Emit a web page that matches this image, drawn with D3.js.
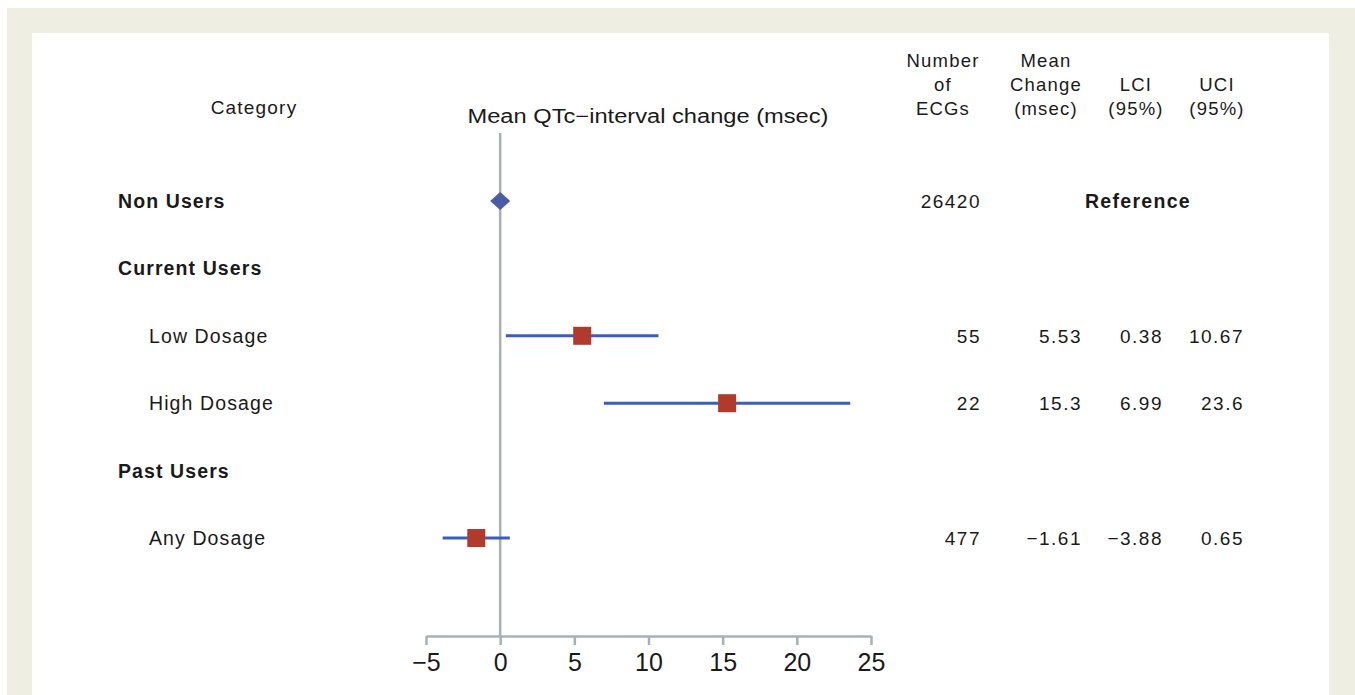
<!DOCTYPE html>
<html>
<head>
<meta charset="utf-8">
<script src="https://cdn.jsdelivr.net/npm/d3@7"></script>
<style>
  body { margin: 0; background: #fff; }
  text { font-family: "Liberation Sans", "Noto Sans", sans-serif; fill: #1a1a1a; }
</style>
</head>
<body>
<div id="chart"></div>
<script>
const width = 1355;
const height = 695;

// rows of the forest plot
const categories = ["Non Users", "Current Users", "Low Dosage", "High Dosage", "Past Users", "Any Dosage"];
const isGroup = [true, true, false, false, true, false];
const ecgCounts = ["26420", "", "55", "22", "", "477"];
const meanChange = [0, null, 5.53, 15.3, null, -1.61];
const lowerCI = [null, null, 0.38, 6.99, null, -3.88];
const upperCI = [null, null, 10.67, 23.6, null, 0.65];
const xTicks = [-5, 0, 5, 10, 15, 20, 25];

const colHeaders = [
  { lines: ["Number", "of", "ECGs"], x: 943 },
  { lines: ["Mean", "Change", "(msec)"], x: 1046 },
  { lines: ["LCI", "(95%)"], x: 1136 },
  { lines: ["UCI", "(95%)"], x: 1217 }
];

const svg = d3.select("#chart")
  .append("svg")
  .attr("width", width)
  .attr("height", height);

// frame
svg.append("rect").attr("x", 7).attr("y", 8).attr("width", width - 7).attr("height", height - 8).attr("fill", "#efeee3");
svg.append("rect").attr("x", 32).attr("y", 33).attr("width", 1297).attr("height", height - 33).attr("fill", "#ffffff");

const x = d3.scaleLinear().domain([-5, 25]).range([426, 871]);
const y = d3.scalePoint().domain(categories).range([201, 538]);

const axisY = 636;

// x axis
const xAxis = svg.append("g")
  .attr("transform", `translate(0,${axisY})`)
  .call(d3.axisBottom(x).tickValues(xTicks).tickSize(9).tickSizeOuter(0).tickPadding(8)
    .tickFormat(d => d < 0 ? "\u2212" + Math.abs(d) : d));
xAxis.select(".domain").attr("stroke", "#a8b0b4").attr("stroke-width", 2.5);
xAxis.selectAll(".tick line").attr("stroke", "#a8b0b4").attr("stroke-width", 2.5);
xAxis.selectAll(".tick text")
  .attr("font-size", 25)
  .attr("fill", "#1a1a1a")
  .style("font-family", "'Liberation Sans Narrow', 'Liberation Sans', sans-serif");

// reference line at zero
svg.append("line")
  .attr("x1", x(0)).attr("x2", x(0))
  .attr("y1", 133).attr("y2", axisY)
  .attr("stroke", "#a8b0b4")
  .attr("stroke-width", 2.5);

// headers
svg.append("text")
  .attr("x", 254).attr("y", 114)
  .attr("text-anchor", "middle")
  .attr("font-size", 19)
  .attr("letter-spacing", 1.2)
  .text("Category");

svg.append("text")
  .attr("x", 648).attr("y", 123)
  .attr("text-anchor", "middle")
  .attr("font-size", 20)
  .attr("textLength", 361)
  .attr("lengthAdjust", "spacingAndGlyphs")
  .text("Mean QTc\u2212interval change (msec)");

colHeaders.forEach(h => {
  const start = 115 - (h.lines.length - 1) * 24;
  h.lines.forEach((l, i) => {
    svg.append("text")
      .attr("x", h.x)
      .attr("y", start + i * 24)
      .attr("text-anchor", "middle")
      .attr("font-size", 18.5)
      .attr("letter-spacing", 1.2)
      .text(l);
  });
});

// category labels
svg.selectAll(".cat")
  .data(categories)
  .enter().append("text")
  .attr("class", "cat")
  .attr("x", (d, i) => isGroup[i] ? 118 : 149)
  .attr("y", d => y(d) + 7)
  .attr("font-size", 19.5)
  .attr("letter-spacing", 1.1)
  .attr("font-weight", (d, i) => isGroup[i] ? "bold" : "normal")
  .text(d => d);

// CI lines
const ciIdx = categories.map((d, i) => i).filter(i => lowerCI[i] !== null);
svg.selectAll(".ci")
  .data(ciIdx)
  .enter().append("line")
  .attr("class", "ci")
  .attr("x1", i => x(lowerCI[i]))
  .attr("x2", i => x(upperCI[i]))
  .attr("y1", i => y(categories[i]))
  .attr("y2", i => y(categories[i]))
  .attr("stroke", "#3a5cc6")
  .attr("stroke-width", 3);

// point estimates
const sq = 18;
svg.selectAll(".est")
  .data(ciIdx)
  .enter().append("rect")
  .attr("class", "est")
  .attr("x", i => x(meanChange[i]) - sq / 2)
  .attr("y", i => y(categories[i]) - sq / 2)
  .attr("width", sq)
  .attr("height", sq)
  .attr("fill", "#b23a2c");

// reference diamond
const dw = 10, dh = 9;
const cx0 = x(meanChange[0]), cy0 = y(categories[0]);
svg.append("path")
  .attr("d", d3.line()([[cx0 - dw, cy0], [cx0, cy0 - dh], [cx0 + dw, cy0], [cx0, cy0 + dh]]) + "Z")
  .attr("fill", "#4b5ca6");

// table columns
const fmtRows = categories.map((d, i) => i).filter(i => ecgCounts[i] !== "");
const neg = v => v < 0 ? "\u2212" + Math.abs(v) : String(v);

function column(cls, rows, xPos, fn) {
  svg.selectAll("." + cls)
    .data(rows)
    .enter().append("text")
    .attr("class", cls)
    .attr("x", xPos).attr("y", i => y(categories[i]) + 7)
    .attr("text-anchor", "end")
    .attr("font-size", 19)
    .attr("letter-spacing", 1.5)
    .text(fn);
}
column("ecg", fmtRows, 981, i => ecgCounts[i]);
column("mean", ciIdx, 1082, i => neg(meanChange[i]));
column("lci", ciIdx, 1163, i => neg(lowerCI[i]));
column("uci", ciIdx, 1244, i => neg(upperCI[i]));

svg.append("text")
  .attr("x", 1138).attr("y", y(categories[0]) + 7)
  .attr("text-anchor", "middle")
  .attr("font-size", 19.5)
  .attr("font-weight", "bold")
  .attr("letter-spacing", 1.3)
  .text("Reference");
</script>
</body>
</html>
